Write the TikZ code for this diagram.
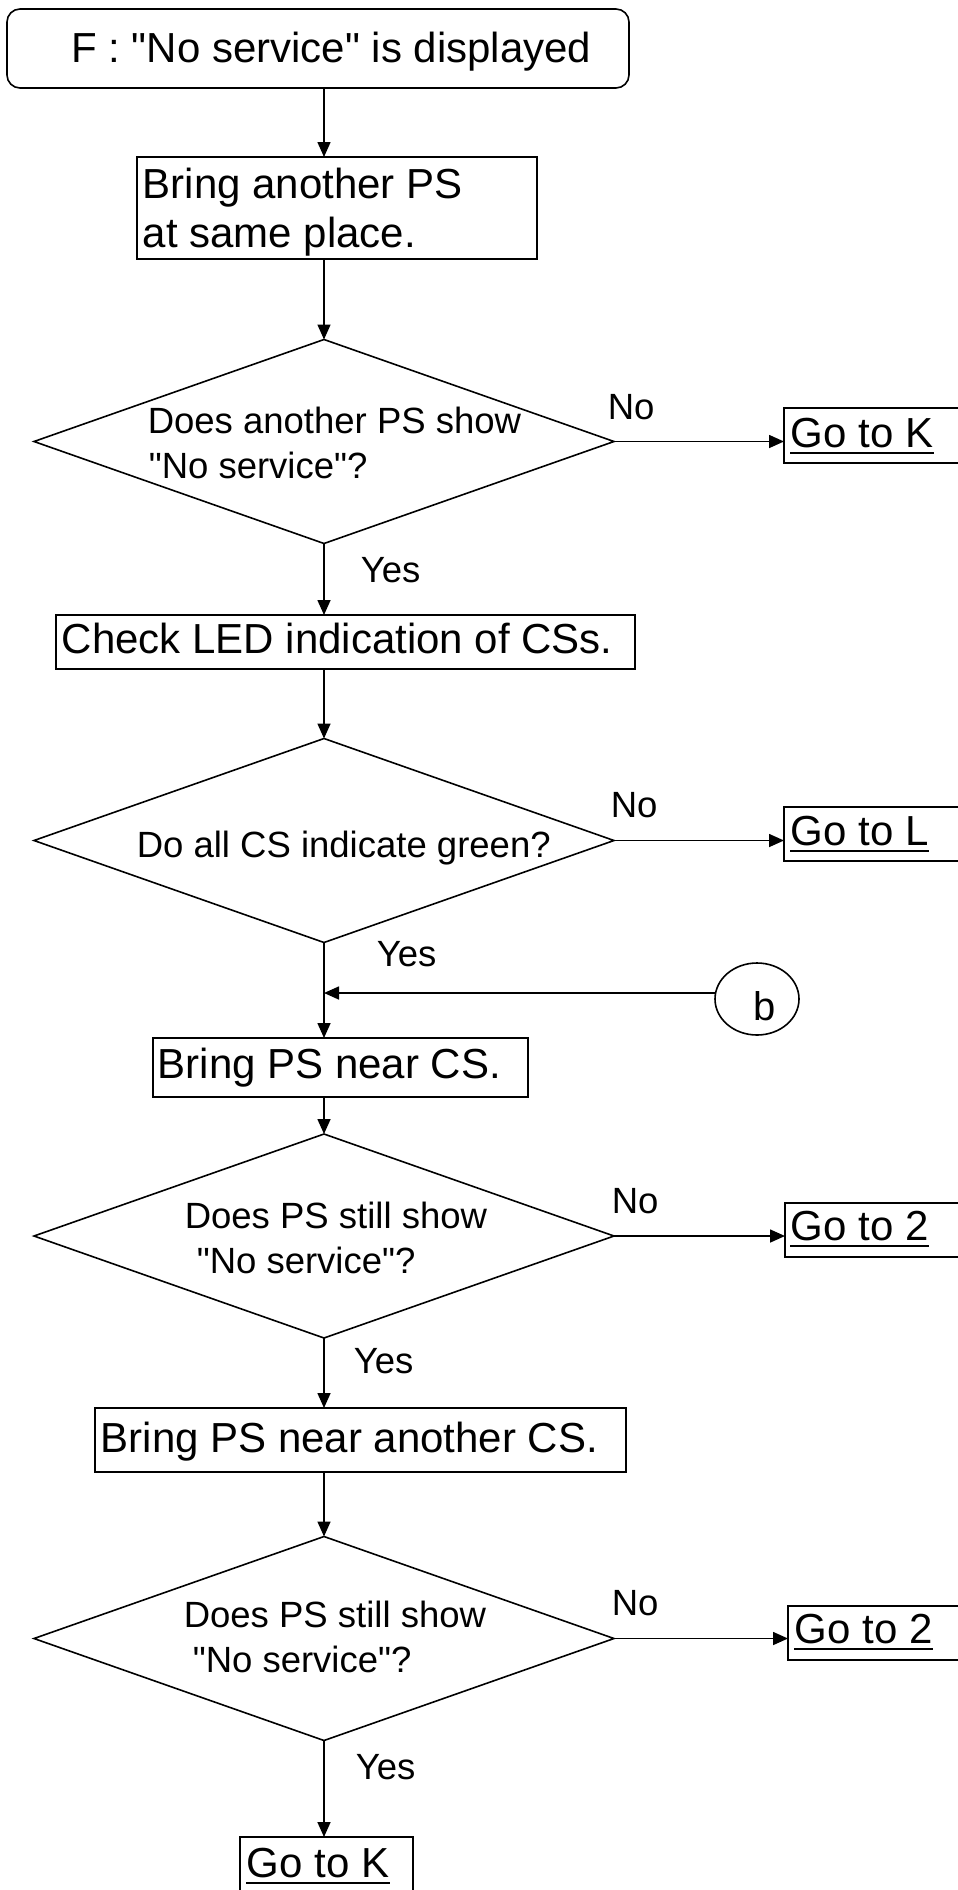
\documentclass[tikz,border=0pt]{standalone}
\usepackage{fontspec}
\setmainfont{Liberation Sans}[Ligatures=TeXOff]
\usetikzlibrary{shapes.geometric,arrows.meta}
\begin{document}
\begin{tikzpicture}[x=1pt,y=-1pt,
  line width=1.6pt,
  frame/.style={draw, rectangle, inner sep=0pt, outer sep=0pt},
  decision/.style={draw, diamond, inner sep=0pt, outer sep=0pt,
                   minimum width=580pt, minimum height=204pt},
  bigtext/.style={inner sep=0pt, anchor=base west, font=\fontsize{42}{48}\selectfont},
  smalltext/.style={inner sep=0pt, anchor=base west, font=\fontsize{36.5}{44}\selectfont},
  flow/.style={-{Triangle[length=15pt,width=13pt]}},
  uline/.style={line width=2.5pt},
]
\useasboundingbox (0,0) rectangle (958,1890);
\clip (0,0) rectangle (958,1890);

% process boxes
\node[frame, rounded corners=13pt, minimum width=622pt, minimum height=79pt] (start) at (318,48.5) {};
\node[frame, minimum width=400pt, minimum height=102pt] (b1) at (337,208) {};
\node[frame, minimum width=579pt, minimum height=54pt] (b2) at (345.5,642) {};
\node[frame, minimum width=375pt, minimum height=59pt] (b3) at (340.5,1067.5) {};
\node[frame, minimum width=531pt, minimum height=64pt] (b4) at (360.5,1440) {};

% decisions
\node[decision] (d1) at (324,441.5) {};
\node[decision] (d2) at (324,840.5) {};
\node[decision] (d3) at (324,1236) {};
\node[decision] (d4) at (324,1638.5) {};

% jump targets
\node[frame, minimum width=178pt, minimum height=55pt] (gK1) at (873,435.5) {};
\node[frame, minimum width=178pt, minimum height=54pt] (gL) at (873,834) {};
\node[frame, minimum width=177pt, minimum height=54pt] (g2a) at (873.5,1230) {};
\node[frame, minimum width=174pt, minimum height=54pt] (g2b) at (875,1633) {};
\node[frame, minimum width=173pt, minimum height=63pt] (gK2) at (326.5,1868.5) {};

% connector b
\node[draw, ellipse, inner sep=0pt, outer sep=0pt, minimum width=84pt, minimum height=72pt] (bc) at (757,999) {};
\node[inner sep=0pt, anchor=base west, font=\fontsize{40}{46}\selectfont] (bt) at (753,1020) {b};
\coordinate (j) at (324,993);

% texts
\node[bigtext] (tstart) at (70.5,62) {F : "No service" is displayed};
\node[bigtext] (tb1a) at (142,198) {Bring another PS};
\node[bigtext] (tb1b) at (142,247) {at same place.};
\node[bigtext] (tb2) at (61,653) {Check LED indication of CSs.};
\node[bigtext] (tb3) at (157,1078) {Bring PS near CS.};
\node[bigtext] (tb4) at (100,1452) {Bring PS near another CS.};

\node[smalltext] (td1a) at (147,433) {Does another PS show};
\node[smalltext] (td1b) at (148,478) {"No service"?};
\node[smalltext] (td2) at (136,857) {Do all CS indicate green?};
\node[smalltext] (td3a) at (184,1228) {Does PS still show};
\node[smalltext] (td3b) at (196,1273) {"No service"?};
\node[smalltext] (td4a) at (183,1627) {Does PS still show};
\node[smalltext] (td4b) at (192,1672) {"No service"?};

\node[smalltext] (n1) at (607,419) {No};
\node[smalltext] (n2) at (610,817) {No};
\node[smalltext] (n3) at (611,1213) {No};
\node[smalltext] (n4) at (611,1615) {No};
\node[smalltext] (y1) at (360,582) {Yes};
\node[smalltext] (y2) at (376,966) {Yes};
\node[smalltext] (y3) at (353,1373) {Yes};
\node[smalltext] (y4) at (355,1779) {Yes};

\node[bigtext] (tK1) at (790,447) {Go to K};
\node[bigtext] (tL) at (790,845) {Go to L};
\node[bigtext] (t2a) at (790,1240) {Go to 2};
\node[bigtext] (t2b) at (794,1643) {Go to 2};
\node[bigtext] (tK2) at (246,1877) {Go to K};

% underlines of the jump targets
\foreach \t in {tK1,tL,t2a,t2b,tK2}
  \draw[uline] ([yshift=-6pt]\t.base west) -- ([yshift=-6pt]\t.base east);

% main flow
\draw[flow] (start.south -| d1.north) -- (b1.north -| d1.north);
\draw[flow] (b1.south -| d1.north) -- (d1.north);
\draw[flow] (d1.south) -- (b2.north -| d1.south);
\draw[flow] (b2.south -| d2.north) -- (d2.north);
\draw[flow] (d2.south) -- (b3.north -| d2.south);
\draw[flow] (b3.south -| d3.north) -- (d3.north);
\draw[flow] (d3.south) -- (b4.north -| d3.south);
\draw[flow] (b4.south -| d4.north) -- (d4.north);
\draw[flow] (d4.south) -- (gK2.north -| d4.south);

% "No" branches
\draw[flow] (d1.east) -- (d1.east -| gK1.west);
\draw[flow] (d2.east) -- (d2.east -| gL.west);
\draw[flow] (d3.east) -- (d3.east -| g2a.west);
\draw[flow] (d4.east) -- (d4.east -| g2b.west);

% re-entry from b
\draw[flow] (bc.west |- j) -- (j);
\end{tikzpicture}
\end{document}
